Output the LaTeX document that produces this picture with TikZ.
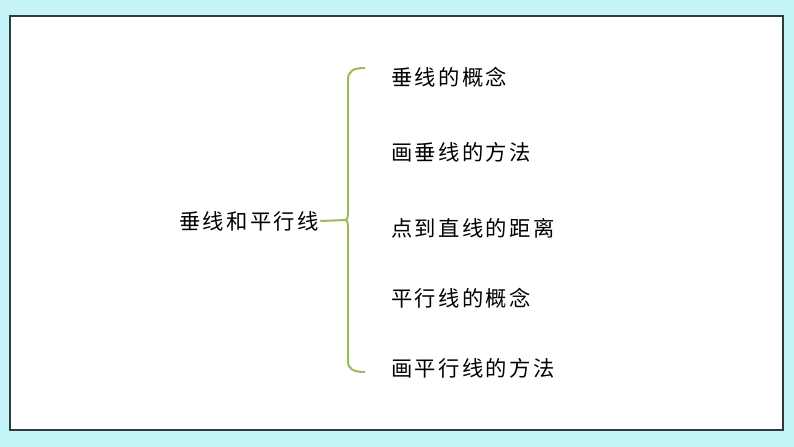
\documentclass[tikz,border=0pt]{standalone}
\usepackage{fontspec}
\usepackage{xcolor}
\usepackage{tikz}
\usetikzlibrary{positioning}
\newfontfamily\cjk[LetterSpace=11]{Noto Sans CJK SC}

\definecolor{bgcyan}{RGB}{197,245,248}
\definecolor{framegray}{RGB}{45,60,62}
\definecolor{bracegreen}{RGB}{155,187,89}

\tikzset{
  topic/.style={anchor=west,inner sep=0.75pt,font=\cjk\fontsize{16}{19}\selectfont},
  branch/.style={draw=bracegreen,line width=1.5pt}
}

\begin{document}
\begin{tikzpicture}[x=0.75pt,y=0.75pt,yscale=-1,xscale=1]
  %set diagram size 794 x 447
  \path [fill=bgcyan] (0,0) rectangle (794,447);
  \useasboundingbox (0,0) rectangle (794,447);

  %Shape: Rectangle [id:frame]
  \draw [draw=framegray,fill=white,line width=1.1pt] (10,16) rectangle (783,430);

  % Text Node
  \node [topic] (root) at (178,221) {垂线和平行线};
  % Text Node
  \node [topic] (concept) at (390,77) {垂线的概念};
  % Text Node
  \node [topic] (drawperp) at (390,152) {画垂线的方法};
  % Text Node
  \node [topic] (distance) at (390,228) {点到直线的距离};
  % Text Node
  \node [topic] (parconcept) at (390,298) {平行线的概念};
  % Text Node
  \node [topic] (drawpar) at (390,368) {画平行线的方法};

  %Curve Lines [id:brace]
  \coordinate (tip) at (345,220);
  \draw [branch] (365,68) .. controls (353,68) and (348,71) .. (348,80) -- (348,212) .. controls (348,217) and (347.5,220) .. (tip) .. controls (347.5,220) and (348,223) .. (348,228) -- (348,361) .. controls (348,369) and (353,372) .. (365,372) ;
  %Straight Lines [id:stem]
  \draw [branch] (root.east) -- (tip) ;
\end{tikzpicture}
\end{document}
